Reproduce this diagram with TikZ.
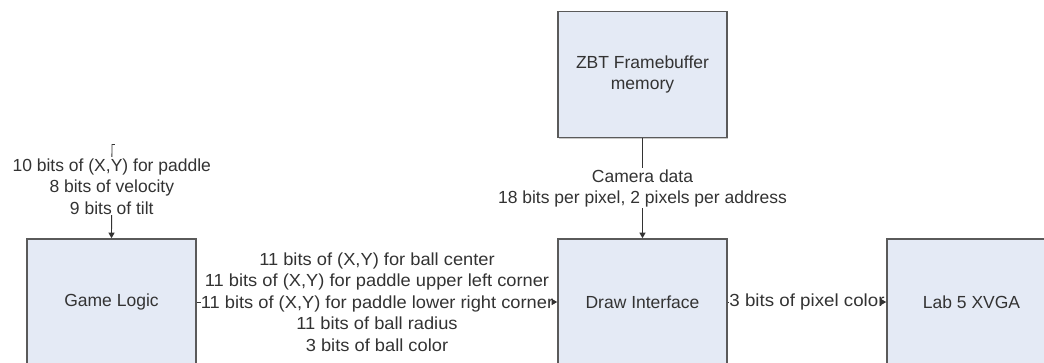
\documentclass[tikz,border=0pt]{standalone}
\usepackage{fontspec}
\setmainfont{Liberation Sans}
\newfontfamily\wideA[FakeStretch=1.045]{Liberation Sans}
\newfontfamily\wideB[FakeStretch=1.07]{Liberation Sans}
\usetikzlibrary{arrows.meta,shadows}
\definecolor{boxfill}{HTML}{E4EAF5}
\definecolor{boxline}{HTML}{5A5A5A}
\definecolor{txt}{HTML}{333333}
\tikzset{
  blk/.style={draw=boxline, line width=1.6pt, fill=boxfill, minimum width=169pt, minimum height=126pt,
    inner sep=0pt, align=center, text=txt, font=\fontsize{17.5}{21.5}\selectfont,
    drop shadow={shadow xshift=1.2pt, shadow yshift=-1.2pt, fill=black!35, opacity=0.6}},
  arr/.style={draw=txt, line width=0.9pt, -{Triangle[length=5.5pt,width=6pt]}},
  ln/.style={draw=txt, line width=0.9pt},
  lbl/.style={fill=white, inner sep=1pt, align=center, text=txt, font=\fontsize{17.5}{21.5}\selectfont}
}
\begin{document}
\begin{tikzpicture}[x=1pt,y=-1pt]
\clip (0,0) rectangle (1044,362);
\fill[white] (0,0) rectangle (1044,362);
\node[blk] (zbt) at (642.5,74.5) {ZBT Framebuffer\\memory};
\node[blk] (gl) at (111.5,302) {Game Logic};
\node[blk] (di) at (642.5,302) {Draw Interface};
\node[blk] (xvga) at (971.5,302) {Lab 5 XVGA};
\coordinate (in) at (112,144);
\draw[ln] (112,144) -- (114.5,144);
\draw[arr] (in) -- node[lbl, pos=0.45] {10 bits of (X,Y) for paddle\\8 bits of velocity\\9 bits of tilt} (gl.north);
\draw[arr] (zbt.south) -- node[lbl] {Camera data\\18 bits per pixel, 2 pixels per address} (di.north);
\path (gl.east) -- node[lbl, inner xsep=0pt, font=\wideA\fontsize{17.5}{21.5}\selectfont] (m1) {11 bits of (X,Y) for ball center\\11 bits of (X,Y) for paddle upper left corner\\11 bits of (X,Y) for paddle lower right corner\\11 bits of ball radius\\3 bits of ball color} (di.west);
\draw[ln] (gl.east) -- (m1.west);
\draw[arr] (m1.east) -- (di.west);
\path (di.east) -- node[lbl, inner xsep=0pt, font=\wideB\fontsize{17.5}{21.5}\selectfont] (m2) {3 bits of pixel color} (xvga.west);
\draw[ln] (di.east) -- (m2.west);
\draw[arr] (m2.east) -- (xvga.west);
\end{tikzpicture}
\end{document}
